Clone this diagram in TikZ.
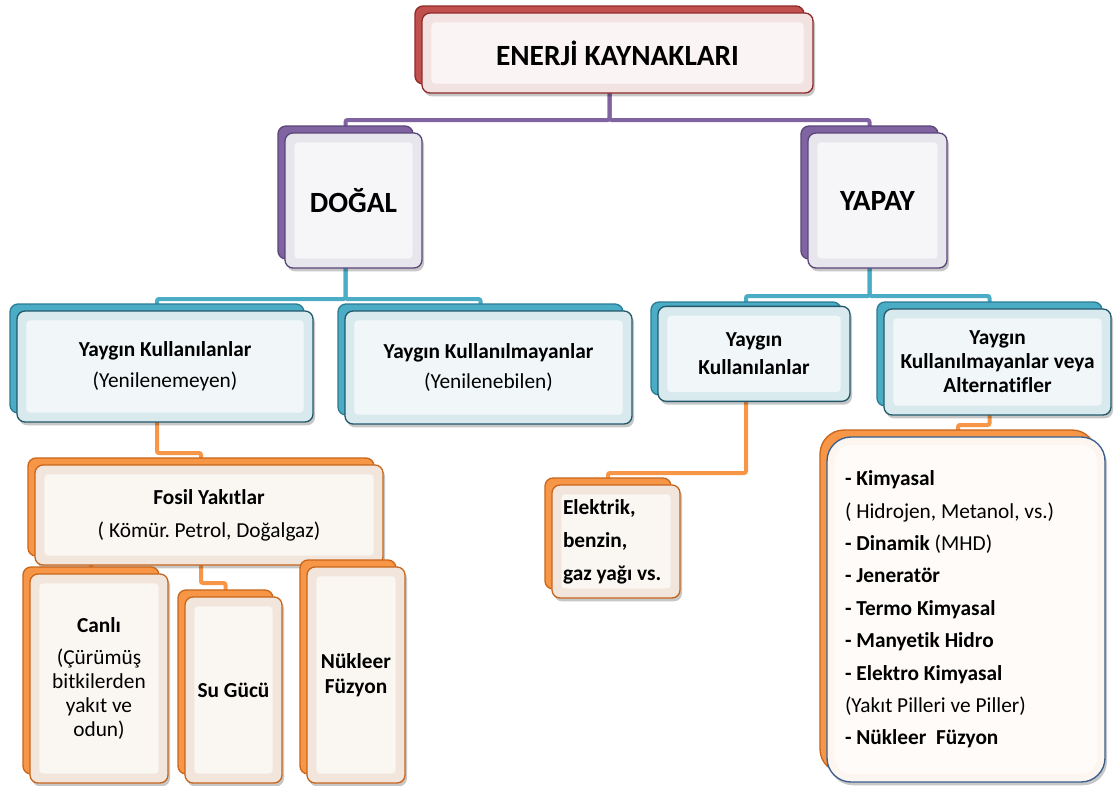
\documentclass[tikz,border=0pt]{standalone}
\usepackage{fontspec}
\setmainfont{Carlito}[Ligatures=NoCommon]
\usetikzlibrary{backgrounds,shadows}
\definecolor{redB}{HTML}{C0504D}
\definecolor{redD}{HTML}{8E2B28}
\definecolor{redF}{HTML}{F2E2E2}
\definecolor{purB}{HTML}{8064A2}
\definecolor{purD}{HTML}{5B4579}
\definecolor{purF}{HTML}{E6E6EC}
\definecolor{tealB}{HTML}{4BACC6}
\definecolor{tealD}{HTML}{2B7C92}
\definecolor{tealF}{HTML}{D9EAEF}
\definecolor{tealE}{HTML}{22596A}
\definecolor{oraB}{HTML}{F79646}
\definecolor{oraD}{HTML}{C9661A}
\definecolor{oraF}{HTML}{F2E6DC}
\definecolor{oraE}{HTML}{C8651B}
\definecolor{bluE}{HTML}{3A5F8F}
\definecolor{creF}{HTML}{FDF5EF}
\tikzset{
  boxbase/.style={rounded corners=6pt, inner sep=0pt, outer sep=0pt, line width=1pt},
  bevel/.style={path picture={\fill[white, opacity=0.65, rounded corners=3pt]
      ([xshift=7pt,yshift=-7pt]path picture bounding box.north west) rectangle
      ([xshift=-7pt,yshift=7pt]path picture bounding box.south east);}},
  fshadow/.style={drop shadow={shadow xshift=1.5pt, shadow yshift=-2.5pt, opacity=0.22, fill=black}},
  backR/.style={boxbase, fill=redB, draw=redD},
  frontR/.style={boxbase, fill=redF, draw=redD, bevel, fshadow, align=center},
  backP/.style={boxbase, fill=purB, draw=purD},
  frontP/.style={boxbase, fill=purF, draw=purD, bevel, fshadow, align=center},
  backT/.style={boxbase, fill=tealB, draw=tealD},
  frontT/.style={boxbase, fill=tealF, draw=tealE, bevel, fshadow, align=center},
  backO/.style={boxbase, fill=oraB, draw=oraD},
  frontO/.style={boxbase, fill=oraF, draw=oraE, bevel, fshadow, align=center},
  backB/.style={boxbase, rounded corners=18pt, fill=oraB, draw=oraD},
  frontB/.style={boxbase, rounded corners=18pt, fill=creF, draw=bluE, fshadow,
      path picture={\fill[white, opacity=0.6, rounded corners=12pt]
      ([xshift=6pt,yshift=-6pt]path picture bounding box.north west) rectangle
      ([xshift=-6pt,yshift=6pt]path picture bounding box.south east);}},
  lineP/.style={draw=purB, line width=3pt, rounded corners=1.5pt},
  lineT/.style={draw=tealB, line width=3pt, rounded corners=1.5pt},
  lineO/.style={draw=oraB, line width=3pt, rounded corners=1.5pt},
  bigtitle/.style={font=\fontsize{22}{26}\selectfont\bfseries},
}
% #1 name, #2 colour key, #3 x1, #4 y1, #5 x2, #6 y2, #7 options, #8 text
\newcommand\ebox[8]{%
  \node[back#2, minimum width={(#5-#3-2)*0.75pt}, minimum height={(#6-#4-2)*0.75pt}]
    (#1b) at ({(#3+#5)/2-8},{(#4+#6)/2-8}) {};
  \node[front#2, minimum width={(#5-#3)*0.75pt}, minimum height={(#6-#4)*0.75pt}, #7]
    (#1) at ({(#3+#5)/2},{(#4+#6)/2}) {#8};
}
\begin{document}
\frenchspacing
\begin{tikzpicture}[x=0.75pt,y=-0.75pt]
\useasboundingbox (0,0) rectangle (1120,785);
\begin{scope}[on background layer]
  \fill[white] (0,0) rectangle (1120,785);
\end{scope}

\ebox{enerji}{R}{422}{13}{813}{93}{bigtitle}{ENERJİ KAYNAKLARI}
\ebox{dogal}{P}{285}{133}{422}{268}{bigtitle}{DOĞAL}
\ebox{yapay}{P}{808}{133}{947}{268}{bigtitle}{YAPAY}

\ebox{ykA}{T}{17}{311}{313}{422}{font=\fontsize{16}{19.5}\selectfont}{\textbf{Yaygın Kullanılanlar}\\[3.75pt](Yenilenemeyen)}
\ebox{ykB}{T}{345}{311}{632}{424}{font=\fontsize{16}{19.5}\selectfont}{\textbf{Yaygın Kullanılmayanlar}\\[3.25pt](Yenilenebilen)}
\ebox{ykC}{T}{658}{309}{850}{404}{font=\fontsize{16}{21}\selectfont\bfseries, yshift=2pt}{Yaygın\\Kullanılanlar}
\ebox{ykD}{T}{884}{309}{1111}{415}{font=\fontsize{16}{18}\selectfont\bfseries}{Yaygın\\Kullanılmayanlar veya\\Alternatifler}

\ebox{fosil}{O}{35}{465}{383}{565}{font=\fontsize{16}{19.5}\selectfont}{\textbf{Fosil Yakıtlar}\\[5.25pt]( Kömür. Petrol, Doğalgaz)}
\ebox{canli}{O}{30}{574}{168}{783}{font=\fontsize{16}{18}\selectfont}{\textbf{Canlı}\\[6pt](Çürümüş\\bitkilerden\\yakıt ve\\odun)}
\ebox{su}{O}{185}{597}{282}{783}{font=\fontsize{16}{19}\selectfont\bfseries}{Su Gücü}
\ebox{nuk}{O}{307}{567}{405}{783}{font=\fontsize{16}{18.75}\selectfont\bfseries}{Nükleer\\Füzyon}

\ebox{elek}{O}{552}{485}{680}{598}{font=\fontsize{16}{24.75}\selectfont\bfseries, align=none, text width={106*0.75pt}}{\raggedright Elektrik,\\benzin,\\gaz yağı vs.}

\ebox{big}{B}{827}{437}{1105}{782}{font=\fontsize{16}{24.3}\selectfont, align=none, text width={242*0.75pt}}{\raggedright
\textbf{- Kimyasal}\\
( Hidrojen, Metanol, vs.)\\
\textbf{- Dinamik} (MHD)\\
\textbf{- Jeneratör}\\
\textbf{- Termo Kimyasal}\\
\textbf{- Manyetik Hidro}\\
\textbf{- Elektro Kimyasal}\\
(Yakıt Pilleri ve Piller)\\
\textbf{- Nükleer\ \ Füzyon}}

\begin{scope}[on background layer]
  \draw[lineP] (enerjib.south) -- ++(0,36) -| (dogalb.north);
  \draw[lineP] (enerjib.south) -- ++(0,36) -| (yapayb.north);
  \draw[lineT] (dogalb.south) -- ++(0,40) -| (ykAb.north);
  \draw[lineT] (dogalb.south) -- ++(0,40) -| (ykBb.north);
  \draw[lineT] (yapayb.south) -- ++(0,37) -| (ykCb.north);
  \draw[lineT] (yapayb.south) -- ++(0,37) -| (ykDb.north);
  \draw[lineO] (ykAb.south) -- ++(0,40) -| (fosilb.north);
  \draw[lineO] (ykCb.south) -- ++(0,78) -| (elekb.north);
  \draw[lineO] (ykDb.south) -- ++(0,19) -| (bigb.north);
  \draw[lineO] (fosilb.south) -- ++(0,27) -| (sub.north);
  \draw[lineO] (fosilb.south) -- ++(0,6) -| (canlib.north);
  \draw[lineO] (fosilb.south) -- ++(0,2) -| (nukb.north);
\end{scope}
\end{tikzpicture}
\end{document}
